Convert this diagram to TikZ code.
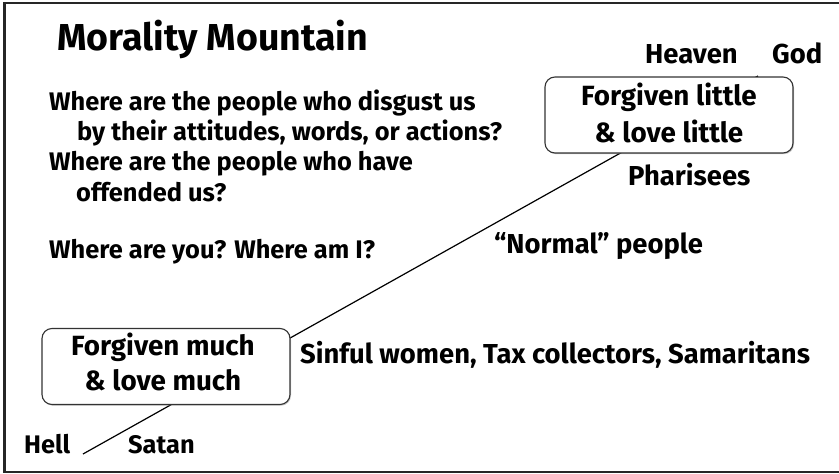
\documentclass[tikz,border=0pt]{standalone}
\usepackage{fontspec}
\setmainfont{Fira Sans}
\usetikzlibrary{shadows}
\tikzset{
  txt/.style={anchor=base west, inner sep=0pt, font=\bfseries\fontsize{25.4}{30}\selectfont},
  lbl/.style={anchor=base west, inner sep=0pt, font=\bfseries\fontsize{27.4}{32}\selectfont},
  ctxt/.style={anchor=base, inner sep=0pt, font=\bfseries\fontsize{27.8}{32}\selectfont},
  ttl/.style={anchor=base west, inner sep=0pt, font=\bfseries\fontsize{37.5}{42}\selectfont},
  box/.style={draw=black!80, line width=1.1pt, rounded corners=10pt, fill=white,
    minimum width=248pt, minimum height=76pt, inner sep=0pt,
    drop shadow={shadow xshift=1pt, shadow yshift=-1.2pt, opacity=0.45}},
  frameline/.style={line width=2.8pt, draw=black!85},
  mount/.style={line width=1.2pt, draw=black}
}
\begin{document}
\begin{tikzpicture}[x=1pt,y=-1pt]
\useasboundingbox (0,0) rectangle (839,474);
% frame (open on the right)
\draw[frameline] (839,3) -- (4.5,3) -- (4.5,472) -- (839,472);
% mountain line
\coordinate (hellpt) at (83,454);
\coordinate (godpt) at (758,76);
\draw[mount] (hellpt) -- (godpt);
% boxes
\node[box] (little) at (669,115) {};
\node[box] (much) at (166,366.5) {};
\node[ctxt] (little1) at (669,105) {Forgiven little};
\node[ctxt] (little2) at (669,142) {\& love little};
\node[ctxt] (much1) at (163,355) {Forgiven much};
\node[ctxt] (much2) at (163,390) {\& love much};
% title
\node[ttl] (title) at (57,50) {Morality Mountain};
% questions
\node[txt] (q1) at (49,110) {Where are the people who disgust us};
\node[txt] (q2) at (77,140) {by their attitudes, words, or actions?};
\node[txt] (q3) at (49,170) {Where are the people who have};
\node[txt] (q4) at (76,201) {offended us?};
\node[txt] (q5) at (49,258) {Where are you? Where am I?};
% labels
\node[lbl] (heaven) at (645,63) {Heaven};
\node[lbl] (god) at (772,63) {God};
\node[lbl] (phar) at (628,185) {Pharisees};
\node[lbl] (normal) at (494,253) {“Normal” people};
\node[lbl] (sinful) at (300,363) {Sinful women, Tax collectors, Samaritans};
\node[txt] (hell) at (24,453) {Hell};
\node[txt] (satan) at (128,453) {Satan};
\end{tikzpicture}
\end{document}
